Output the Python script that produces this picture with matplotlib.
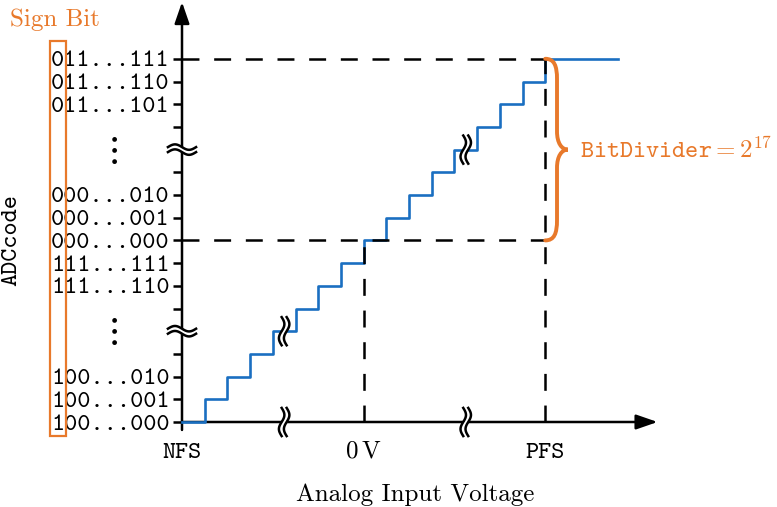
import numpy as np
import matplotlib.pyplot as plt
from matplotlib.path import Path
from matplotlib.patches import PathPatch, Rectangle

plt.rcParams['mathtext.fontset'] = 'cm'
plt.rcParams['lines.scale_dashes'] = False

# -------------------------------
# Data (one unit = one LSB step)
# -------------------------------
step_edges = [0, 1, 2, 3, 4, 5, 6, 7, 8, 9, 10, 11, 12, 13, 14, 15, 16, 19.2]
step_codes = [0, 1, 2, 3, 4, 5, 6, 7, 8, 9, 10, 11, 12, 13, 14, 15, 16, 16]

code_levels = [0, 1, 2, 3, 5, 6, 7, 8, 9, 10, 11, 13, 14, 15, 16]
code_labels = ['100...000', '100...001', '100...010', '', '',
               '111...110', '111...111', '000...000', '000...001', '000...010',
               '', '', '011...101', '011...110', '011...111']

volt_pos = [0, 8, 16]
volt_labels = ['NFS', r'$0\,\mathrm{V}$', 'PFS']

zero_code, full_code = 8, 16
zero_volt, full_volt = 8, 16

xbreaks = [4.5, 12.5]          # breaks on the voltage axis / staircase
ybreaks = [4, 12]              # breaks on the code axis
dots_levels = [4, 12]

blue = '#1a6fc1'
orange = '#e8792b'
fs = 18

# -------------------------------
# Figure
# -------------------------------
px = 22.7
fig = plt.figure(figsize=(7.77, 5.07), dpi=100)
ax = fig.add_axes([0, 0, 1, 1])
ax.set_xlim(-182 / px, (777 - 182) / px)
ax.set_ylim((422 - 507) / px, 422 / px)

for s in ax.spines.values():
    s.set_visible(False)
ax.spines['left'].set_position(('data', 0))
ax.spines['bottom'].set_position(('data', 0))

# axes with arrows
arrow = dict(arrowstyle='-|>,head_length=1.3,head_width=0.45', color='black',
             lw=1.8, shrinkA=0, shrinkB=0, mutation_scale=10)
ax.annotate('', xy=(0, 18.5), xytext=(0, -0.35), arrowprops=arrow)
ax.annotate('', xy=(20.95, 0), xytext=(0, 0), arrowprops=arrow)

# ticks
ax.set_yticks(code_levels, code_labels)
ax.tick_params(axis='y', direction='out', length=6.5, width=1.8,
               labelsize=fs, pad=2.5)
for lab in ax.get_yticklabels():
    lab.set_fontfamily('cmtt10')
ax.set_xticks(volt_pos, volt_labels)
ax.tick_params(axis='x', length=0, labelsize=fs, pad=15)
for lab in ax.get_xticklabels():
    lab.set_fontfamily('cmtt10')

# staircase
ax.step(step_edges, step_codes, where='post', color=blue, lw=1.9, zorder=3)

# dashed guide lines
dash = dict(color='black', lw=1.8, dashes=(12.2, 10.6), zorder=4)
ax.plot([0, full_volt], [full_code, full_code], **dash)
ax.plot([0, full_volt], [zero_code, zero_code], **dash)
ax.plot([zero_volt, zero_volt], [0, zero_code], **dash)
ax.plot([full_volt, full_volt], [0, full_code], **dash)


# axis break marks
def draw_break(cx, cy, vertical):
    t = np.linspace(-0.62, 0.62, 80)
    s = 0.12 * np.sin(2 * np.pi * (t + 0.62) / 1.24)
    if vertical:
        ax.fill_betweenx(cy + t, cx - 0.11 - s, cx + 0.11 - s, color='white', zorder=5, lw=0)
        ax.plot(cx - 0.11 - s, cy + t, color='black', lw=1.8, zorder=6)
        ax.plot(cx + 0.11 - s, cy + t, color='black', lw=1.8, zorder=6)
    else:
        ax.fill_between(cx + t, cy - 0.11 + s, cy + 0.11 + s, color='white', zorder=5, lw=0)
        ax.plot(cx + t, cy - 0.11 + s, color='black', lw=1.8, zorder=6)
        ax.plot(cx + t, cy + 0.11 + s, color='black', lw=1.8, zorder=6)


for xb, yb in zip(xbreaks, ybreaks):
    draw_break(xb, 0, True)
    draw_break(xb, yb, True)
    draw_break(0, yb, False)

for lv in dots_levels:
    ax.text(-3.13, lv, r'$\vdots$', ha='center', va='center', fontsize=27)

# brace for the full-scale code range
xs, xt = full_volt + 0.52, full_volt + 1.0
mid = (full_code + zero_code) / 2
verts = [(full_volt, full_code),
         (full_volt + 0.4, full_code), (xs, full_code - 0.3), (xs, full_code - 0.9),
         (xs, mid + 0.8),
         (xs, mid + 0.3), (xs + 0.2, mid), (xt, mid),
         (xs + 0.2, mid), (xs, mid - 0.3), (xs, mid - 0.8),
         (xs, zero_code + 0.9),
         (xs, zero_code + 0.3), (full_volt + 0.4, zero_code), (full_volt, zero_code)]
codes = [Path.MOVETO, Path.CURVE4, Path.CURVE4, Path.CURVE4, Path.LINETO,
         Path.CURVE4, Path.CURVE4, Path.CURVE4, Path.CURVE4, Path.CURVE4, Path.CURVE4,
         Path.LINETO, Path.CURVE4, Path.CURVE4, Path.CURVE4]
ax.add_patch(PathPatch(Path(verts, codes), fill=False, edgecolor=orange, lw=2.8,
                       capstyle='round', zorder=5))
ax.text(17.55, mid, r'$\mathtt{BitDivider} = 2^{17}$', color=orange,
        fontsize=fs, ha='left', va='center')

# sign bit marker
ax.add_patch(Rectangle((-5.81, -0.62), 0.70, 17.4, fill=False,
                       edgecolor=orange, lw=1.6, zorder=5))
ax.text(-5.6, 17.7, 'Sign Bit', color=orange, fontsize=fs,
        fontfamily='cmr10', ha='center', va='center')

# axis labels
ax.set_ylabel('ADCcode', fontsize=fs, fontfamily='cmtt10')
ax.yaxis.set_label_coords(22 / 777, (507 - 240) / 507)
ax.set_xlabel('Analog Input Voltage', fontsize=fs, fontfamily='cmr10')
ax.xaxis.set_label_coords(415 / 777, (507 - 483) / 507)

fig.savefig('out.png', dpi=100)
